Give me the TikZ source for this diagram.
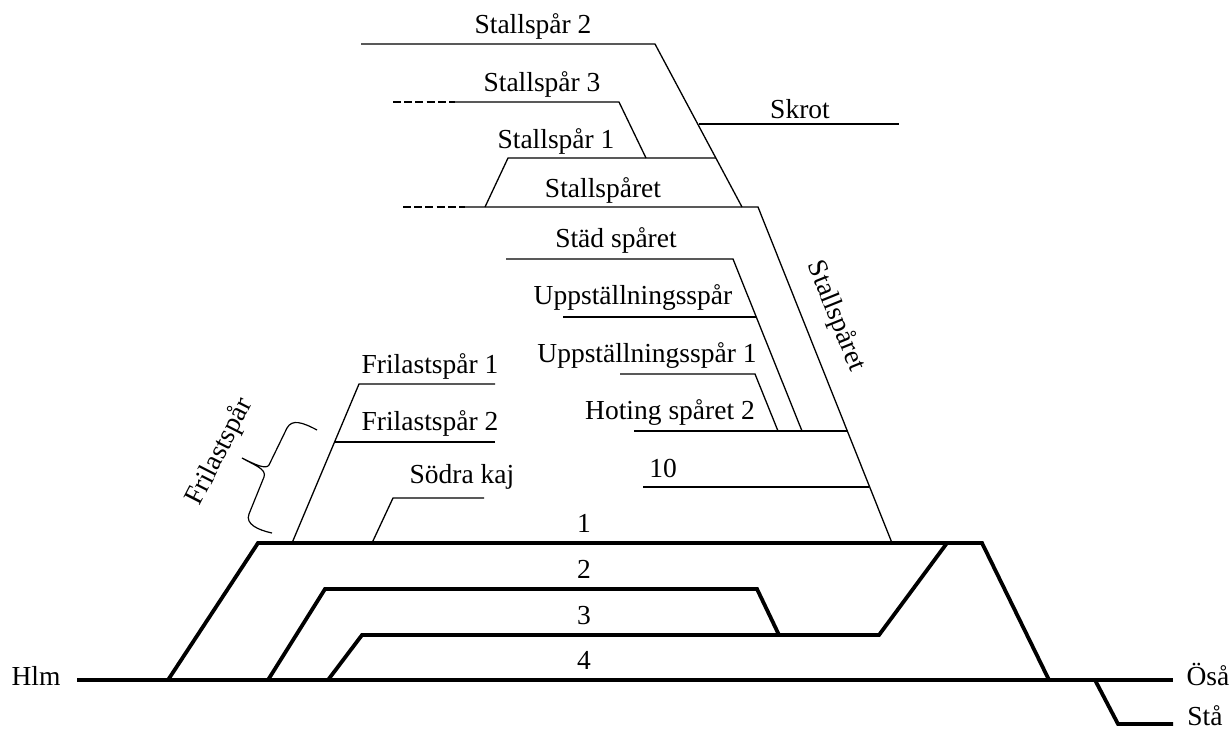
\documentclass[tikz,border=0pt]{standalone}
\usepackage{fontspec}
\setmainfont{Liberation Serif}
\begin{document}
\begin{tikzpicture}[x=0.5pt,y=-0.5pt,
  thintrack/.style={line width=0.65pt, line join=miter},
  thicktrack/.style={line width=1.9pt, line join=miter},
  spurdash/.style={line width=0.65pt, dash pattern=on 4pt off 1.6pt},
  lbl/.style={font=\fontsize{13.75}{16}\selectfont, inner sep=0pt, anchor=base},
  rlbl/.style={font=\fontsize{13.75}{16}\selectfont, inner sep=0pt, anchor=center}]
\useasboundingbox (0,0) rectangle (1231,729);

% ---------- thick main tracks ----------
\coordinate (hlm) at (77,680);
\coordinate (osa) at (1173,680);
\coordinate (a1) at (168,680);
\coordinate (b1) at (258,543);
\coordinate (e1) at (982,543);
\coordinate (f1) at (1049,680);
\coordinate (a2) at (268,680);
\coordinate (b2) at (325,589);
\coordinate (c2) at (757,589);
\coordinate (d2) at (779,635);
\coordinate (a3) at (328,680);
\coordinate (b3) at (362,635);
\coordinate (c3) at (879,635);
\coordinate (d3) at (947,543);
\coordinate (s0) at (1095,680);
\coordinate (s1) at (1118,724);
\coordinate (s2) at (1173,724);

\draw[thicktrack] (hlm) -- (osa);
\draw[thicktrack] (a1) -- (b1) -- (e1) -- (f1);
\draw[thicktrack] (a2) -- (b2) -- (c2) -- (d2);
\draw[thicktrack] (a3) -- (b3) -- (c3) -- (d3);
\draw[thicktrack] (s0) -- (s1) -- (s2);

% ---------- upper stall tracks ----------
\coordinate (st2l) at (361,44);
\coordinate (st2r) at (655,44);
\coordinate (dtop) at (742,207);
\coordinate (skl) at (699,124);
\coordinate (skr) at (899,124);
\coordinate (st3d) at (393,102);
\coordinate (st3l) at (455,102);
\coordinate (st3r) at (619,102);
\coordinate (st3f) at (646,158);
\coordinate (st1l) at (508,158);
\coordinate (st1r) at (716,158);
\coordinate (sprd) at (403,207);
\coordinate (sprl) at (465,207);
\coordinate (sprf) at (485,207);
\coordinate (sprr) at (758,207);
\coordinate (sprb) at (892,543);

\draw[thintrack] (st2l) -- (st2r) -- (dtop);
\draw[thintrack] (skl) -- (skr);
\draw[spurdash] (st3d) -- (st3l);
\draw[thintrack] (st3l) -- (st3r) -- (st3f);
\draw[thintrack] (sprf) -- (st1l) -- (st1r);
\draw[spurdash] (sprd) -- (sprl);
\draw[thintrack] (sprl) -- (sprr) -- (sprb);

% ---------- middle sidings ----------
\coordinate (sdl) at (506,259);
\coordinate (sdr) at (733,259);
\coordinate (sdf) at (802,431);
\coordinate (upl) at (563,317);
\coordinate (upr) at (756,317);
\coordinate (u1l) at (620,374);
\coordinate (u1r) at (755,374);
\coordinate (u1f) at (778,431);
\coordinate (hol) at (634,431);
\coordinate (hor) at (848,431);
\coordinate (tnl) at (643,487);
\coordinate (tnr) at (869,487);

\draw[thintrack] (sdl) -- (sdr) -- (sdf);
\draw[thintrack] (upl) -- (upr);
\draw[thintrack] (u1l) -- (u1r) -- (u1f);
\draw[thintrack] (hol) -- (hor);
\draw[thintrack] (tnl) -- (tnr);

% ---------- left freight tracks ----------
\coordinate (f1r) at (495,384);
\coordinate (f1l) at (359,384);
\coordinate (f1f) at (292,543);
\coordinate (f2r) at (495,442);
\coordinate (f2l) at (335,442);
\coordinate (skr2) at (484,498);
\coordinate (skl2) at (393,498);
\coordinate (skf) at (372,543);

\draw[thintrack] (f1r) -- (f1l) -- (f1f);
\draw[thintrack] (f2r) -- (f2l);
\draw[thintrack] (skr2) -- (skl2) -- (skf);

% brace
\draw[line width=0.6pt] (317,430) .. controls (302,422) and (292,419) .. (287,428)
  -- (269,465) .. controls (266,470) and (254,464) .. (242,458)
  .. controls (254,465) and (267,469) .. (264,477)
  -- (249,514) .. controls (245,524) and (258,530) .. (272,533);

% ---------- labels ----------
\node[lbl] (tst2) at (533,33) {Stallspår 2};
\node[lbl] (tst3) at (542,91) {Stallspår 3};
\node[lbl] (tst1) at (556,148) {Stallspår 1};
\node[lbl] (tspr) at (603,197) {Stallspåret};
\node[lbl] (tskr) at (800,118) {Skrot};
\node[lbl] (tstd) at (616,247) {Städ spåret};
\node[lbl] (tupp) at (633,304) {Uppställningsspår};
\node[lbl] (tup1) at (647,362) {Uppställningsspår 1};
\node[lbl] (thot) at (670,419) {Hoting spåret 2};
\node[lbl] (tten) at (663,477) {10};
\node[lbl] (tfr1) at (430,373) {Frilastspår 1};
\node[lbl] (tfr2) at (430,430) {Frilastspår 2};
\node[lbl] (tsod) at (462,483) {Södra kaj};
\node[lbl] (tone) at (584,532) {1};
\node[lbl] (ttwo) at (584,578) {2};
\node[lbl] (tthr) at (584,624) {3};
\node[lbl] (tfou) at (584,669) {4};
\node[lbl] (thlm) at (36,685) {Hlm};
\node[lbl] (tosa) at (1208,685) {Öså};
\node[lbl] (tsta) at (1205,725) {Stå};
\node[rlbl, rotate=63] (tfri) at (220,452) {Frilastspår};
\node[rlbl, rotate=-68] (tsps) at (836,316) {Stallspåret};
\end{tikzpicture}
\end{document}
